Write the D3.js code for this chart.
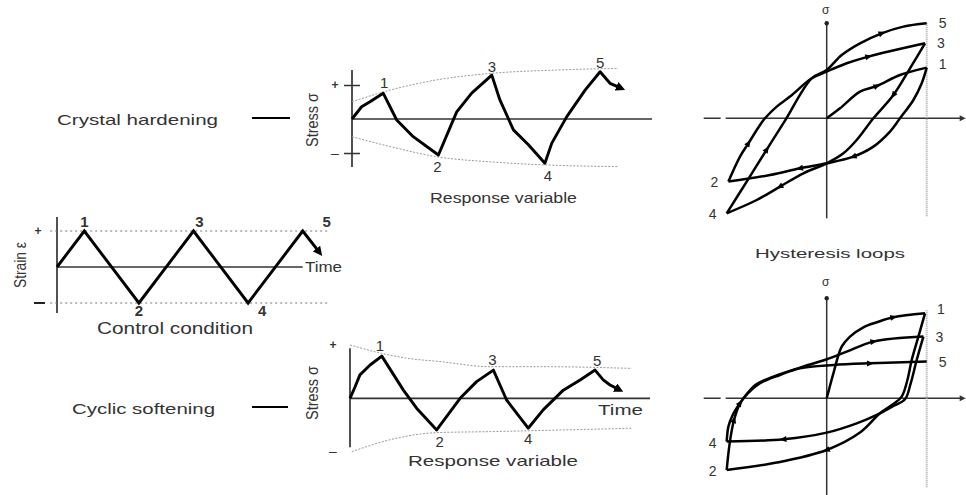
<!DOCTYPE html>
<html>
<head>
<meta charset="utf-8">
<script src="https://cdn.jsdelivr.net/npm/d3@7/dist/d3.min.js"></script>
<style>
  body { margin: 0; background: #fff; }
  text { font-family: "Liberation Sans", Arial, sans-serif; fill: #333; }
</style>
</head>
<body>
<div id="chart"></div>
<script>
// ---- data ----
var cycleLabels = ["1", "2", "3", "4", "5"];

// control condition (strain vs time)
var strainTime  = [0, 1, 3, 5, 7, 9, 9.63];
var strainValue = [0, 1, -1, 1, -1, 1, 0.39];
var strainPeaks = [1, 2, 3, 4, 5];

// crystal hardening response (stress vs time)
var hardTime   = [0, 0.32, 0.6, 1.04, 1.49, 2.04, 2.88, 3.49, 3.99, 4.66, 4.93, 5.38, 5.88, 6.43, 6.66, 7.16, 7.77, 8.27, 8.6, 8.99];
var hardStress = [0, 0.36, 0.51, 0.76, -0.03, -0.52, -1.06, 0.21, 0.76, 1.29, 0.56, -0.32, -0.76, -1.30, -0.71, 0.07, 0.85, 1.39, 1.05, 0.90];
var hardPeaks  = [3, 6, 9, 13, 17];
var hardUpperT = [0, 1.27, 2.82, 4.6, 6.82, 8.88];
var hardUpperS = [0.51, 0.85, 1.15, 1.34, 1.44, 1.49];
var hardLowerT = [0, 1.27, 2.82, 4.6, 6.43, 8.88];
var hardLowerS = [-0.52, -0.81, -1.11, -1.26, -1.35, -1.40];

// cyclic softening response (stress vs time)
var softTime   = [0, 0.17, 0.33, 0.67, 1.06, 1.78, 2.22, 2.89, 3.67, 4.22, 4.78, 5.22, 5.56, 5.94, 6.44, 7.11, 7.67, 8.17, 8.44, 8.67, 9.0];
var softStress = [0, 0.34, 0.69, 0.98, 1.24, 0.24, -0.29, -0.93, 0, 0.49, 0.83, -0.05, -0.44, -0.88, -0.34, 0.24, 0.54, 0.83, 0.54, 0.39, 0.24];
var softPeaks  = [4, 7, 10, 13, 17];
var softUpperT = [0, 1.06, 1.89, 3.0, 4.67, 6.33, 9.39];
var softUpperS = [1.57, 1.32, 1.18, 1.08, 0.93, 0.93, 0.88];
var softLowerT = [0.06, 1.33, 2.89, 4.67, 9.39];
var softLowerS = [-1.57, -1.22, -1.01, -0.98, -0.88];

// hysteresis loops, hardening: [strain, stress] per branch
var hardLoop01 = [[0,0],[0.133,0.1],[0.333,0.267],[0.5,0.323],[0.733,0.433],[1,0.507]];
var hardLoop12 = [[1,0.507],[0.95,0.35],[0.867,0.183],[0.733,0],[0.633,-0.133],[0.467,-0.283],[0.267,-0.383],[0,-0.45],[-0.267,-0.5],[-0.567,-0.567],[-0.983,-0.633]];
var hardLoop23 = [[-0.983,-0.633],[-0.867,-0.383],[-0.783,-0.25],[-0.667,-0.067],[-0.617,0],[-0.5,0.117],[-0.367,0.217],[-0.15,0.4],[0,0.467],[0.2,0.55],[0.417,0.617],[0.983,0.75]];
var hardLoop34 = [[0.983,0.75],[0.833,0.5],[0.667,0.233],[0.467,0],[0.3,-0.217],[0.167,-0.35],[0,-0.45],[-0.233,-0.55],[-0.467,-0.683],[-0.7,-0.817],[-1,-0.95]];
var hardLoop45 = [[-1,-0.95],[-0.8,-0.633],[-0.6,-0.313],[-0.417,-0.023],[-0.15,0.4],[0,0.483],[0.15,0.633],[0.333,0.75],[0.55,0.85],[0.767,0.917],[1,0.95]];

// hysteresis loops, softening
var softLoop01 = [[0,0],[0.067,0.25],[0.15,0.517],[0.233,0.617],[0.367,0.71],[0.5,0.76],[0.667,0.81],[0.983,0.85]];
var softLoop12 = [[0.983,0.85],[0.917,0.617],[0.85,0.383],[0.807,0.183],[0.75,0.017],[0.667,-0.057],[0.533,-0.15],[0.333,-0.343],[0,-0.517],[-0.5,-0.643],[-1,-0.717]];
var softLoop23 = [[-1,-0.717],[-0.983,-0.55],[-0.96,-0.383],[-0.927,-0.217],[-0.867,-0.05],[-0.8,0.043],[-0.7,0.143],[-0.533,0.217],[-0.267,0.307],[0,0.39],[0.2,0.467],[0.467,0.567],[0.967,0.617]];
var softLoop34 = [[0.967,0.617],[0.9,0.383],[0.84,0.15],[0.783,-0.01],[0.667,-0.077],[0.533,-0.15],[0.3,-0.25],[0,-0.343],[-0.433,-0.41],[-1,-0.433]];
var softLoop45 = [[-1,-0.433],[-0.983,-0.283],[-0.94,-0.167],[-0.867,-0.05],[-0.793,0.043],[-0.667,0.15],[-0.467,0.233],[-0.267,0.3],[0.067,0.333],[0.433,0.35],[1,0.367]];

// ---- setup ----
var svgWidth = 966;
var svgHeight = 495;

var svg = d3.select("#chart")
    .append("svg")
    .attr("width", svgWidth)
    .attr("height", svgHeight);

svg.append("defs")
    .append("marker")
    .attr("id", "arrowEnd")
    .attr("viewBox", "0 0 10 10")
    .attr("refX", 6)
    .attr("refY", 5)
    .attr("markerWidth", 3.2)
    .attr("markerHeight", 3.2)
    .attr("orient", "auto")
    .append("path")
    .attr("d", "M0,0L10,5L0,10z")
    .attr("fill", "#000");

function addText(g, str, x, y, size, len, opts) {
    opts = opts || {};
    var t = g.append("text")
        .attr("x", x)
        .attr("y", y)
        .style("font-size", size + "px")
        .text(str);
    if (len) t.attr("textLength", len).attr("lengthAdjust", "spacingAndGlyphs");
    if (opts.anchor) t.style("text-anchor", opts.anchor);
    if (opts.bold) t.style("font-weight", "bold");
    if (opts.rotate) t.attr("transform", "rotate(-90," + x + "," + y + ")");
    return t;
}

function hline(g, x1, x2, y, w, color, dash) {
    var l = g.append("line")
        .attr("x1", x1).attr("x2", x2)
        .attr("y1", y).attr("y2", y)
        .attr("stroke", color || "#333")
        .attr("stroke-width", w || 1.5);
    if (dash) l.attr("stroke-dasharray", dash);
    return l;
}

function vline(g, x, y1, y2, w, color, dash) {
    var l = g.append("line")
        .attr("x1", x).attr("x2", x)
        .attr("y1", y1).attr("y2", y2)
        .attr("stroke", color || "#333")
        .attr("stroke-width", w || 1.5);
    if (dash) l.attr("stroke-dasharray", dash);
    return l;
}

// ---- stress / time panels ----
function drawResponse(opts) {
    var g = svg.append("g");
    var x = d3.scaleLinear().domain([0, 10]).range(opts.xRange);
    var y = d3.scaleLinear().domain([-1, 1]).range(opts.yRange);

    var line = d3.line().x(d => x(d[0])).y(d => y(d[1]));
    var envLine = d3.line().x(d => x(d[0])).y(d => y(d[1])).curve(d3.curveMonotoneX);

    // axes
    vline(g, x(0), y(1) - opts.axisPad[0], y(-1) + opts.axisPad[1], 1.7);
    hline(g, x(0), x(10), y(0), 1.7);

    if (opts.ticks) {
        var leftAxis = d3.axisLeft(y)
            .tickValues([1, -1])
            .tickSizeInner(8)
            .tickSizeOuter(0)
            .tickFormat(() => "");
        var ax = g.append("g")
            .attr("transform", `translate(${x(0)},0)`)
            .call(leftAxis);
        ax.select(".domain").remove();
        ax.selectAll(".tick line").attr("x1", 8).attr("x2", -8)
            .attr("stroke", "#333").attr("stroke-width", 1.5);
    }
    addText(g, "+", x(0) - 17, y(1) + opts.plusDy, 12, null, {anchor: "middle", bold: true});
    addText(g, "\u2013", x(0) - 17, y(-1) + opts.minusDy, 14, null, {anchor: "middle"});

    // envelope
    [[opts.upT, opts.upS], [opts.loT, opts.loS]].forEach(function(e) {
        g.append("path")
            .attr("d", envLine(d3.zip(e[0], e[1])))
            .attr("fill", "none")
            .attr("stroke", "#9a9a9a")
            .attr("stroke-width", 1)
            .attr("stroke-dasharray", "2,1.5");
    });

    // response curve
    var pts = d3.zip(opts.t, opts.s);
    g.append("path")
        .attr("d", line(pts))
        .attr("fill", "none")
        .attr("stroke", "#000")
        .attr("stroke-width", 2.9)
        .attr("stroke-linejoin", "round")
        .attr("marker-end", "url(#arrowEnd)");

    opts.peaks.forEach(function(idx, i) {
        var p = pts[idx];
        var off = opts.labelOff[i];
        addText(g, cycleLabels[i], x(p[0]) + off[0], y(p[1]) + off[1], 15, null, {anchor: "middle"});
    });

    addText(g, "Stress \u03c3", opts.stressX, opts.stressY, 16, 54, {anchor: "middle", rotate: true});
    addText(g, "Response variable", opts.respX, opts.respY, 15, opts.respLen);
    return {x: x, y: y, g: g};
}

// crystal hardening
addText(svg, "Crystal hardening", 57, 125, 15, 161);
hline(svg, 252, 290, 118, 2, "#000");
drawResponse({
    xRange: [352, 652], yRange: [153, 85], axisPad: [15, 14], ticks: true,
    plusDy: 4, minusDy: 5,
    t: hardTime, s: hardStress, peaks: hardPeaks,
    upT: hardUpperT, upS: hardUpperS, loT: hardLowerT, loS: hardLowerS,
    labelOff: [[1, -5], [-1, 17], [0, -3], [3, 18], [0, -4]],
    stressX: 318, stressY: 120, respX: 430, respY: 203, respLen: 147
});

// cyclic softening
addText(svg, "Cyclic softening", 72, 414, 15, 143);
hline(svg, 252, 288, 407, 2, "#000");
drawResponse({
    xRange: [350, 650], yRange: [432.3, 364.3], axisPad: [16, 15], ticks: false,
    plusDy: -15, minusDy: 24,
    t: softTime, s: softStress, peaks: softPeaks,
    upT: softUpperT, upS: softUpperS, loT: softLowerT, loS: softLowerS,
    labelOff: [[-2, -5], [3, 17], [-1, -5], [0, 16], [2, -4]],
    stressX: 318, stressY: 393, respX: 408, respY: 466, respLen: 170
});
addText(svg, "Time", 598, 415, 14, 45);

// ---- control condition ----
var ctrl = svg.append("g");
var xC = d3.scaleLinear().domain([0, 9]).range([57, 302.7]);
var yC = d3.scaleLinear().domain([-1, 1]).range([303, 231]);

vline(ctrl, xC(0), 217, 313, 1.7);
hline(ctrl, xC(0), xC(9), yC(0), 1.7);
hline(ctrl, xC(-0.25), xC(10), yC(1), 1, "#777", "2,3");
hline(ctrl, xC(-0.25), xC(10), yC(-1), 1, "#777", "2,3");
addText(ctrl, "+", xC(0) - 19, yC(1) + 4, 12, null, {anchor: "middle", bold: true});
hline(ctrl, xC(0) - 23, xC(0) - 12, yC(-1), 2, "#222");

var strainPts = d3.zip(strainTime, strainValue);
ctrl.append("path")
    .attr("d", d3.line().x(d => xC(d[0])).y(d => yC(d[1]))(strainPts))
    .attr("fill", "none")
    .attr("stroke", "#000")
    .attr("stroke-width", 2.9)
    .attr("stroke-linejoin", "miter")
    .attr("marker-end", "url(#arrowEnd)");

var ctrlOff = [[0, -4], [0, 13], [6, -4], [14, 13], [24, -4]];
strainPeaks.forEach(function(idx, i) {
    var p = strainPts[idx];
    addText(ctrl, cycleLabels[i], xC(p[0]) + ctrlOff[i][0], yC(p[1]) + ctrlOff[i][1], 15, null, {anchor: "middle", bold: true});
});
addText(ctrl, "Time", 305, 272, 15, 37);
addText(ctrl, "Strain \u03b5", 26, 265, 16, 46, {anchor: "middle", rotate: true});
addText(ctrl, "Control condition", 97, 334, 16, 156);

// ---- hysteresis loops ----
function drawLoops(branches, arrows, yRange, axisExt, dotExt, labelDy, sigmaY) {
    var g = svg.append("g");
    var x = d3.scaleLinear().domain([-1, 1]).range([726.7, 926.7]);
    var y = d3.scaleLinear().domain([-1, 1]).range(yRange);
    var line = d3.line().x(d => x(d[0])).y(d => y(d[1])).curve(d3.curveCatmullRom.alpha(0.5));

    // strain axis, dashed start and arrow at right
    hline(g, x(-1.23), x(1.36), y(0), 1.5, "#333", "17,5,400");
    g.append("path")
        .attr("d", d3.line()([[x(1.33), y(0) - 3], [x(1.39), y(0)], [x(1.33), y(0) + 3]]))
        .attr("fill", "#333");
    // stress axis with dot on top
    vline(g, x(0), y(axisExt[0]), y(axisExt[1]), 1.5);
    g.append("circle").attr("cx", x(0)).attr("cy", y(axisExt[0]) + 1).attr("r", 2.2).attr("fill", "#222");
    addText(g, "\u03c3", x(0) - 1, sigmaY, 12, null, {anchor: "middle"});
    // strain limit
    vline(g, x(1), y(dotExt[0]), y(dotExt[1]), 2, "#aaa", "1,1");

    branches.forEach(function(b, i) {
        g.append("path")
            .attr("d", line(b))
            .attr("fill", "none")
            .attr("stroke", "#000")
            .attr("stroke-width", 2.5)
            .attr("stroke-linejoin", "round");
        arrows[i].forEach(function(k) {
            var p0 = b[k - 1], p1 = b[k + 1], p = b[k];
            var ang = Math.atan2(y(p1[1]) - y(p0[1]), x(p1[0]) - x(p0[0])) * 180 / Math.PI;
            g.append("path")
                .attr("d", "M4,0L-3,-3L-3,3z")
                .attr("fill", "#000")
                .attr("transform", `translate(${x(p[0])},${y(p[1])}) rotate(${ang})`);
        });
    });

    // end point labels
    branches.forEach(function(b, i) {
        var p = b[b.length - 1];
        var right = p[0] > 0;
        addText(g, cycleLabels[i], x(p[0]) + (right ? 16 : -14), y(p[1]) + labelDy[i], 14, null, {anchor: "middle"});
    });
    return g;
}

drawLoops([hardLoop01, hardLoop12, hardLoop23, hardLoop34, hardLoop45],
          [[3], [6, 8], [2, 10], [2, 8], [2, 8]],
          [218.3, 18.3], [0.96, -1.0], [0.95, -0.99], [1, 5, 5, 6, 5], 14);

drawLoops([softLoop01, softLoop12, softLoop23, softLoop34, softLoop45],
          [[6], [8], [3, 11], [8], [3, 9]],
          [498.3, 298.3], [1.01, -0.98], [0.88, -0.9], [1, 6, 5, 6, 5], 286);

addText(svg, "Hysteresis loops", 755, 258, 13, 150);
</script>
</body>
</html>
